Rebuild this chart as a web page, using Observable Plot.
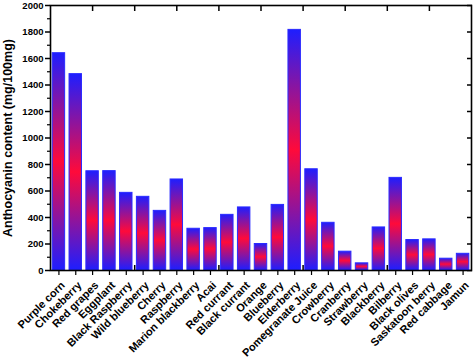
<!DOCTYPE html>
<html>
<head>
<meta charset="utf-8">
<script src="https://cdn.jsdelivr.net/npm/d3@7"></script>
<script src="https://cdn.jsdelivr.net/npm/@observablehq/plot@0.6"></script>
<style>
  html, body { margin: 0; padding: 0; background: white; }
</style>
</head>
<body>
<div id="chart"></div>
<script>
const categories = ["Purple corn","Chokeberry","Red grapes","Eggplant","Black Raspberry","Wild blueberry","Cherry","Raspberry","Marion blackberry","Acai","Red currant","Black currant","Orange","Blueberry","Elderberry","Pomegranate Juice","Crowberry","Cranberry","Strawberry","Blackberry","Bilberry","Black olives","Saskatoon berry","Red cabbage","Jamun"];
const values = [1640,1482,749,750,586,556,450,687,315,320,420,476,200,495,1816,764,360,142,54,325,699,230,235,89,126];
const yTicks = [0,200,400,600,800,1000,1200,1400,1600,1800,2000];
const yMinorTicks = [100,300,500,700,900,1100,1300,1500,1700,1900];
const frameTicks = [2.5,5,7.5,10,12.5,15,17.5,20,22.5];
const yLabel = "Anthocyanin content (mg/100mg)";

const data = categories.map((name, i) => ({name, i, value: values[i]}));
const centers = data.map(d => d.i + 0.5);
const blank = () => "";

const plot = Plot.plot({
  width: 474,
  height: 361,
  marginLeft: 50,
  marginRight: 3,
  marginTop: 5,
  marginBottom: 91,
  x: {domain: [0, 25]},
  y: {domain: [0, 2000]},
  style: {fontFamily: "'Liberation Sans', Arial, sans-serif", fontWeight: "bold", fontSize: "10px", color: "black", background: "white"},
  marks: [
    Plot.axisX({anchor: "top", ticks: frameTicks, tickSize: 5, dy: 5, tickFormat: blank, label: null, strokeWidth: 1.5}),
    Plot.axisX({anchor: "bottom", ticks: frameTicks, tickSize: 5, dy: -5, tickFormat: blank, label: null, strokeWidth: 1.5}),
    Plot.axisY({anchor: "right", ticks: yTicks, tickSize: 5, dx: -5, tickFormat: blank, label: null, strokeWidth: 1.5}),
    Plot.rectY(data, {x1: "i", x2: d => d.i + 1, y: "value", insetLeft: 2.2, insetRight: 2.2, fill: "url(#barGrad)", stroke: "#2a2aff", strokeWidth: 1}),
    Plot.axisY({ticks: yTicks, tickSize: 5, tickPadding: 2, fontSize: 9.5, tickFormat: d => String(d), label: null, strokeWidth: 1.5}),
    Plot.axisY({ticks: yMinorTicks, tickSize: 3, tickFormat: blank, label: null, strokeWidth: 1.2}),
    Plot.axisX({ticks: centers, tickSize: 5, tickFormat: blank, label: null, strokeWidth: 1.2}),
    Plot.axisX({ticks: centers, tickFormat: d => categories[Math.floor(d)], tickRotate: -45, tickSize: 0, tickPadding: 13, dx: 4, fontSize: 11, label: null}),
    Plot.frame({stroke: "black", strokeWidth: 1.6}),
    Plot.text([yLabel], {frameAnchor: "left", rotate: -90, textAnchor: "middle", dx: -43, fontSize: 12.5, text: d => d})
  ]
});

d3.select(plot).insert("defs", ":first-child").html(
  `<linearGradient id="barGrad" x1="0" y1="0" x2="0" y2="1">
     <stop offset="0" stop-color="#1e1eff"/>
     <stop offset="0.5" stop-color="#ff0a3a"/>
     <stop offset="1" stop-color="#1e1eff"/>
   </linearGradient>`
);

document.getElementById("chart").appendChild(plot);
</script>
</body>
</html>
